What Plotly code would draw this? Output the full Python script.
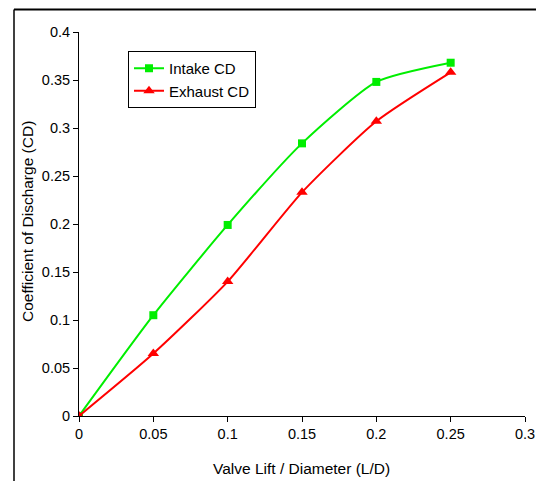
import plotly.graph_objects as go

x_vals = [0, 0.05, 0.1, 0.15, 0.2, 0.25]
intake_cd = [0, 0.105, 0.199, 0.284, 0.348, 0.368]
exhaust_cd = [0, 0.065, 0.140, 0.233, 0.307, 0.358]

W, H = 536, 481
L, R, T, B = 79, 11, 32, 65
pw, ph = W - L - R, H - T - B

def px(x):
    return (x - L) / pw

def py(y):
    return (H - B - y) / ph

FONT = "Liberation Sans, Arial, sans-serif"

fig = go.Figure()
fig.add_trace(go.Scatter(x=x_vals, y=intake_cd, name="Intake CD", mode="lines+markers",
                         line=dict(color="#00ee00", width=2, shape="spline", smoothing=0.6),
                         marker=dict(symbol="square", size=8, color="#00ee00")))
fig.add_trace(go.Scatter(x=x_vals, y=exhaust_cd, name="Exhaust CD", mode="lines+markers",
                         line=dict(color="#ff0000", width=2, shape="spline", smoothing=0.6),
                         marker=dict(symbol="triangle-up", size=10, color="#ff0000")))

axis_common = dict(showgrid=False, zeroline=False, showline=True, linecolor="black", linewidth=1,
                   ticks="outside", ticklen=5, tickcolor="black", automargin=False,
                   tickfont=dict(family=FONT, size=14.5, color="black"))

fig.update_layout(
    width=W, height=H, margin=dict(l=L, r=R, t=T, b=B),
    plot_bgcolor="white", paper_bgcolor="white",
    font=dict(family=FONT, size=14.5, color="black"),
    xaxis=dict(range=[0, 0.3], dtick=0.05, tickformat="~g", **axis_common),
    yaxis=dict(range=[0, 0.4], dtick=0.05, tickformat="~g", **axis_common),
    legend=dict(x=px(128), y=py(51), xanchor="left", yanchor="top",
                bordercolor="black", borderwidth=1, bgcolor="white",
                font=dict(size=15), tracegroupgap=0, itemwidth=30),
    showlegend=True,
)

# axis titles
fig.add_annotation(text="Valve Lift / Diameter (L/D)", xref="paper", yref="paper",
                   x=px(301), y=py(468), xanchor="center", yanchor="middle",
                   showarrow=False, font=dict(size=15.5))
fig.add_annotation(text="Coefficient of Discharge (CD)", xref="paper", yref="paper",
                   x=px(27), y=py(222), xanchor="center", yanchor="middle", textangle=-90,
                   showarrow=False, font=dict(size=15.5))

# outer frame lines (top and left)
fig.add_shape(type="line", xref="paper", yref="paper", x0=px(14), x1=px(540), y0=py(9.5), y1=py(9.5),
              line=dict(color="black", width=2))
fig.add_shape(type="line", xref="paper", yref="paper", x0=px(14), x1=px(14), y0=py(9.5), y1=py(490),
              line=dict(color="black", width=1.5))

fig.write_html("out.html", config={"displayModeBar": False},
               post_script="document.body.style.margin='0';document.body.style.overflow='hidden';")
